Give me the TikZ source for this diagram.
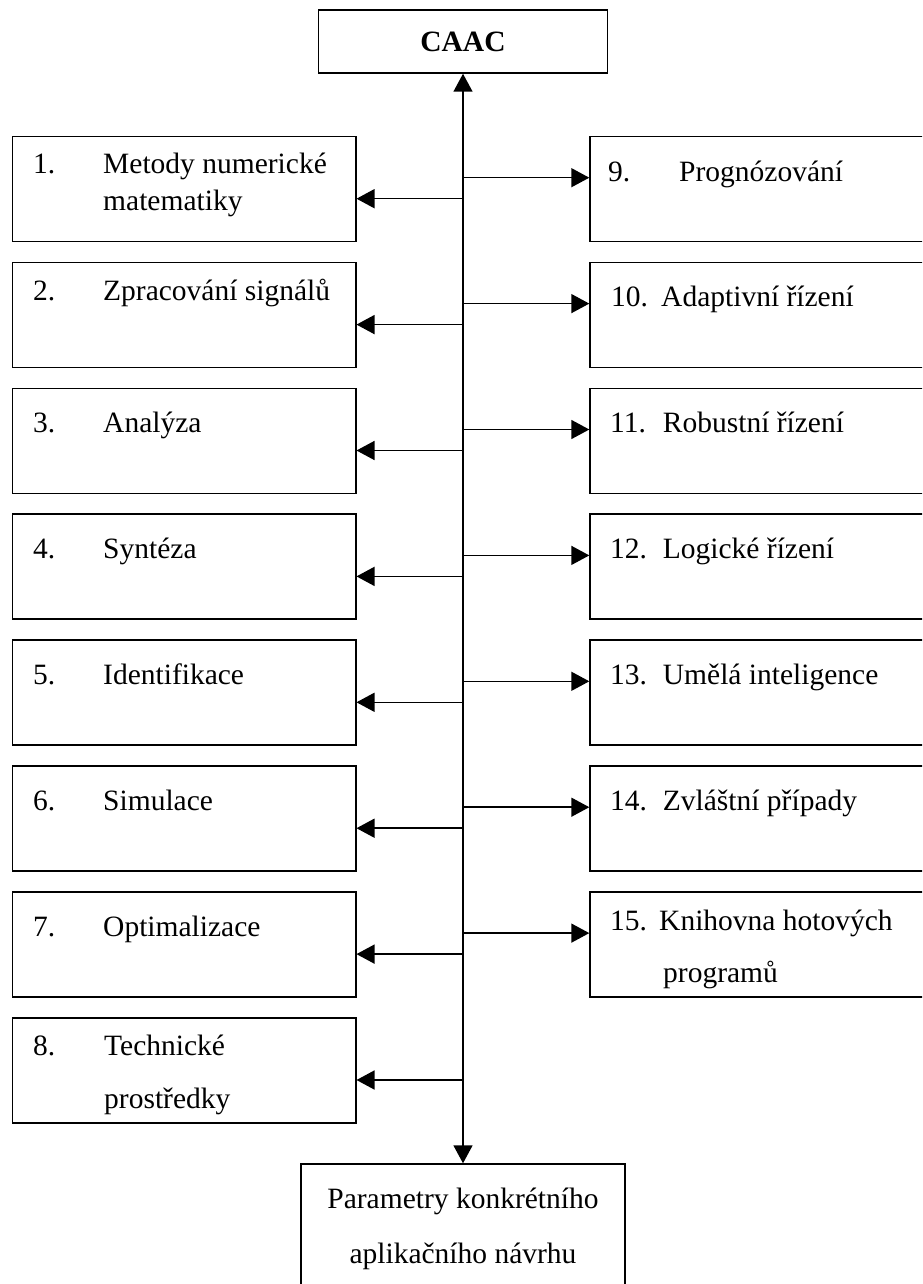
\documentclass[tikz,border=0pt]{standalone}
\usepackage{fontspec}
\setmainfont{Liberation Serif}
\usetikzlibrary{arrows.meta}
\begin{document}
\begin{tikzpicture}[x=1pt,y=-1pt,
  box/.style={draw, line width=1.5pt, inner sep=0pt},
  lbox/.style={box, anchor=north west, minimum width=343.5pt, minimum height=105pt},
  rbox/.style={box, anchor=north west, minimum width=360pt, minimum height=105pt},
  lbl/.style={anchor=base west, inner sep=0pt, font=\fontsize{29.5}{36}\selectfont},
  clbl/.style={anchor=base, inner sep=0pt, font=\fontsize{29.5}{36}\selectfont},
  tip/.tip={Triangle[length=18pt,width=19pt]},
  conn/.style={line width=1.5pt, -tip},
  spine/.style={line width=1.5pt, tip-tip}]
\useasboundingbox (0,0) rectangle (922,1284);
\clip (0,0) rectangle (922,1284);
\fill[white] (0,0) rectangle (922,1284);

% top and bottom boxes
\node[box, minimum width=289pt, minimum height=63pt, font=\fontsize{29.5}{36}\selectfont\bfseries] (caac) at (463,41.5) {CAAC};
\node[box, anchor=north, minimum width=324pt, minimum height=140pt] (out) at (463,1163.3) {};
\node[clbl] (outa) at (463,1208) {Parametry konkrétního};
\node[clbl] (outb) at (463,1263) {aplikačního návrhu};

% left boxes
\node[lbox] (b1) at (11.5,135.7) {};
\node[lbox] (b2) at (11.5,261.6) {};
\node[lbox] (b3) at (11.5,387.5) {};
\node[lbox] (b4) at (11.5,513.4) {};
\node[lbox] (b5) at (11.5,639.3) {};
\node[lbox] (b6) at (11.5,765.2) {};
\node[lbox] (b7) at (11.5,891.1) {};
\node[lbox] (b8) at (11.5,1017.0) {};

% right boxes
\node[rbox] (b9) at (589.3,135.7) {};
\node[rbox] (b10) at (589.3,261.6) {};
\node[rbox] (b11) at (589.3,387.5) {};
\node[rbox] (b12) at (589.3,513.4) {};
\node[rbox] (b13) at (589.3,639.3) {};
\node[rbox] (b14) at (589.3,765.2) {};
\node[rbox] (b15) at (589.3,891.1) {};

% left texts
\node[lbl] (n1) at (33,174) {1.};
\node[lbl] (t1a) at (103,174) {Metody numerické};
\node[lbl] (t1b) at (103,210) {matematiky};
\node[lbl] (n2) at (33,300) {2.};
\node[lbl] (t2) at (103,300) {Zpracování signálů};
\node[lbl] (n3) at (33,432.5) {3.};
\node[lbl] (t3) at (103,432.5) {Analýza};
\node[lbl] (n4) at (33,558.4) {4.};
\node[lbl] (t4) at (103,558.4) {Syntéza};
\node[lbl] (n5) at (33,684.3) {5.};
\node[lbl] (t5) at (103,684.3) {Identifikace};
\node[lbl] (n6) at (33,810.2) {6.};
\node[lbl] (t6) at (103,810.2) {Simulace};
\node[lbl] (n7) at (33,936.1) {7.};
\node[lbl] (t7) at (103,936.1) {Optimalizace};
\node[lbl] (n8) at (33,1055) {8.};
\node[lbl] (t8a) at (104,1055) {Technické};
\node[lbl] (t8b) at (104,1108) {prostředky};

% right texts
\node[lbl] (n9) at (608,181.7) {9.};
\node[lbl] (t9) at (679,181.7) {Prognózování};
\node[lbl] (n10) at (611,306.6) {10.};
\node[lbl] (t10) at (661,306.6) {Adaptivní řízení};
\node[lbl] (n11) at (610,432.5) {11.};
\node[lbl] (t11) at (662.7,432.5) {Robustní řízení};
\node[lbl] (n12) at (610,558.4) {12.};
\node[lbl] (t12) at (662.7,558.4) {Logické řízení};
\node[lbl] (n13) at (610,684.3) {13.};
\node[lbl] (t13) at (662.7,684.3) {Umělá inteligence};
\node[lbl] (n14) at (610,810.2) {14.};
\node[lbl] (t14) at (662.7,810.2) {Zvláštní případy};
\node[lbl] (n15) at (610,930) {15.};
\node[lbl] (t15a) at (659,930) {Knihovna hotových};
\node[lbl] (t15b) at (663,982) {programů};

% spine
\draw[spine] (caac.south) -- (out.north);

% spine coordinates
\coordinate (l1) at (463,198.7);
\coordinate (l2) at (463,324.6);
\coordinate (l3) at (463,450.5);
\coordinate (l4) at (463,576.4);
\coordinate (l5) at (463,702.3);
\coordinate (l6) at (463,828.2);
\coordinate (l7) at (463,954.1);
\coordinate (l8) at (463,1080.0);
\coordinate (r9) at (463,177.7);
\coordinate (r10) at (463,303.6);
\coordinate (r11) at (463,429.5);
\coordinate (r12) at (463,555.4);
\coordinate (r13) at (463,681.3);
\coordinate (r14) at (463,807.2);
\coordinate (r15) at (463,933.1);

\foreach \i in {1,...,8} {\draw[conn] (l\i) -- (l\i -| b\i.east);}
\foreach \i in {9,...,15} {\draw[conn] (r\i) -- (r\i -| b\i.west);}
\end{tikzpicture}
\end{document}
